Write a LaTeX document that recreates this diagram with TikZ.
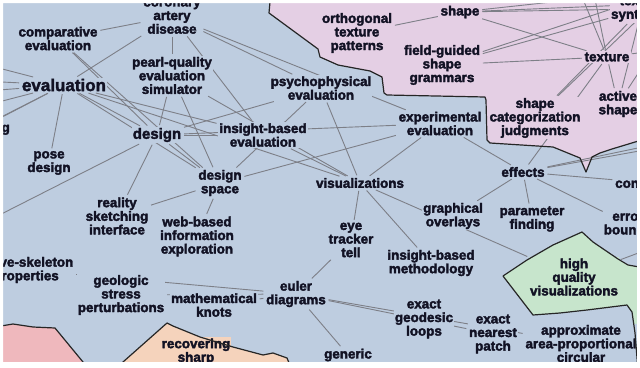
\documentclass[tikz,border=0pt]{standalone}
\usepackage{fontspec}
\setmainfont{Liberation Sans}
\definecolor{cblue}{RGB}{190,205,224}
\definecolor{cpink}{RGB}{228,207,228}
\definecolor{cgreen}{RGB}{199,229,204}
\definecolor{cpeach}{RGB}{245,211,188}
\definecolor{cred}{RGB}{239,184,189}
\definecolor{txt}{RGB}{18,18,36}
\definecolor{egray}{RGB}{125,127,135}
\newcommand{\heavytext}{\special{pdf:literal direct 2 Tr 0.35 w}}
\pgfdeclarelayer{bg}\pgfdeclarelayer{edges}\pgfdeclarelayer{top}
\pgfsetlayers{bg,edges,main,top}
\tikzset{
  lbl/.style={font=\bfseries\fontsize{13.4}{13.6}\selectfont\heavytext, text=txt, align=center, inner sep=1.2pt, fill=#1},
  lbl/.default=cblue,
  bigA/.style={font=\bfseries\fontsize{17}{18}\selectfont\heavytext},
  bigB/.style={font=\bfseries\fontsize{15}{16}\selectfont\heavytext},
  edg/.style={draw=egray, line width=0.9pt, shorten <=1.5pt, shorten >=1.5pt},
  border/.style={draw=black!85, line width=1.2pt, line join=round}
}
\begin{document}
\begin{tikzpicture}[x=1pt,y=-1pt]
\useasboundingbox (0,0) rectangle (640,367);
% regions
\begin{pgfonlayer}{bg}
\fill[cblue] (0,0) rectangle (640,367);
\fill[cpink] (270,-5) -- (270,2) -- (269,13) -- (318,49) -- (320,57) -- (338,65) -- (370,71) -- (382,77) -- (384,93) -- (387,95) -- (485,97) -- (486,100) -- (487,140) -- (490,143) -- (553,147) -- (580,158) -- (586,172) -- (592,157) -- (600,153) -- (612,149) -- (645,139) -- (645,-5) -- cycle;
\fill[cgreen] (503,276) -- (527,260) -- (553,245) -- (582,232) -- (593,242) -- (618,259) -- (628,265) -- (645,268) -- (645,370) -- (638,370) -- (635,333) -- (632,312) -- (627,305) -- (587,310) -- (560,313) -- (533,315) -- cycle;
\fill[cpeach] (118,370) -- (123,362) -- (167,323) -- (173,326) -- (200,337) -- (233,347) -- (263,355) -- (273,353) -- (287,358) -- (292,370) -- cycle;
\fill[cred] (-5,327) -- (13,324) -- (33,327) -- (55,328) -- (83,362) -- (86,370) -- (-5,370) -- cycle;
\end{pgfonlayer}
% labels
\node[lbl] (cor) at (172,16.5) {coronary\\artery\\disease};
\node[lbl] (comp) at (58,38.5) {comparative\\evaluation};
\node[lbl,bigA] (eval) at (64,85) {evaluation};
\node[lbl] (pearl) at (172,75.5) {pearl-quality\\evaluation\\simulator};
\node[lbl] (psy) at (321,88) {psychophysical\\evaluation};
\node[lbl,bigB] (des) at (157,135) {design};
\node[lbl] (ibe) at (263,135) {insight-based\\evaluation};
\node[lbl] (pose) at (49,163) {pose\\design};
\node[lbl] (ds) at (220,183) {design\\space};
\node[lbl] (real) at (117,216) {reality\\sketching\\interface};
\node[lbl] (web) at (197,236.5) {web-based\\information\\exploration};
\node[lbl] (vis) at (360,183) {visualizations};
\node[lbl] (exp) at (440,123.5) {experimental\\evaluation};
\node[lbl=cpink] (orth) at (357,33) {orthogonal\\texture\\patterns};
\node[lbl=cpink] (shape) at (460,12) {shape};
\node[lbl=cpink] (fg) at (442,65) {field-guided\\shape\\grammars};
\node[lbl=cpink] (scj) at (535,118) {shape\\categorization\\judgments};
\node[lbl=cpink] (tex) at (607,57) {texture};
\node[lbl=cpink] (act) at (618,104) {active\\shape};
\node[lbl=cpink] (ts) at (642,9) {texture\\synthesis};
\node[lbl] (eff) at (523,172) {effects};
\node[lbl] (go) at (453,216) {graphical\\overlays};
\node[lbl] (pf) at (532,219) {parameter\\finding};
\node[lbl,anchor=west] (con) at (613.8,183) {constraints};
\node[lbl] (err) at (628,224) {error\\bounds};
\node[lbl=cgreen] (hq) at (574,277) {high\\quality\\visualizations};
\node[lbl] (eye) at (351,240) {eye\\tracker\\tell};
\node[lbl] (ibm) at (431,263) {insight-based\\methodology};
\node[lbl] (eul) at (296,294) {euler\\diagrams};
\node[lbl] (knot) at (214,305) {mathematical\\knots};
\node[lbl] (geo) at (121,295) {geologic\\stress\\perturbations};
\node[lbl] (csk) at (26,270) {curve-skeleton\\properties};
\node[lbl=cpeach] (rec) at (196,351.5) {recovering\\sharp};
\node[lbl] (gen) at (348,355) {generic};
\node[lbl] (egl) at (424,319) {exact\\geodesic\\loops};
\node[lbl] (enp) at (493,334) {exact\\nearest\\patch};
\node[lbl] (apc) at (581,343.5) {approximate\\area-proportional\\circular};
\node[lbl,anchor=east] (mod) at (11.2,128.5) {modeling};
% off-frame end points
\coordinate (oL1) at (-40,58);
\coordinate (oL2) at (-40,80);
\coordinate (oL3) at (-40,93);
\coordinate (oL4) at (-40,112);
\coordinate (oL5) at (-40,138);
\coordinate (oDL) at (-40,235);
\coordinate (oR1) at (700,135);
\coordinate (oR2) at (700,140);
\coordinate (oR3) at (700,230);
\coordinate (oS1) at (700,-14);
\coordinate (oS2) at (700,2);
\coordinate (oF1) at (660,-7);
\coordinate (oT1) at (575,-20);
\coordinate (oT2) at (590,-25);
\coordinate (oT3) at (700,45);
\coordinate (oA1) at (660,40);
\coordinate (oC1) at (700,-40);
% connectors
\begin{pgfonlayer}{edges}
\draw[edg] (comp) -- (cor);
\draw[edg] (eval) -- (cor);
\draw[edg] (cor) -- (pearl);
\draw[edg] (cor) -- (ibe);
\draw[edg] (cor) -- (exp);
\draw[edg] (cor) -- (psy);
\draw[edg] (comp) -- (des);
\draw[edg] (comp) -- (ds);
\draw[edg] (pearl) -- (vis);
\draw[edg] (pearl) -- (ds);
\draw[edg] (pearl) -- (des);
\draw[edg] (eval) -- (des);
\draw[edg] (eval) -- (vis);
\draw[edg] (eval) -- (ds);
\draw[edg] (eval) -- (ibe);
\draw[edg] (eval) -- (pose);
\draw[edg] (eval) -- (mod);
\draw[edg] (eval) -- (oL1);
\draw[edg] (eval) -- (oL2);
\draw[edg] (eval) -- (oL3);
\draw[edg] (eval) -- (oL4);
\draw[edg] (eval) -- (oL5);
\draw[edg] (des) -- (ibe);
\draw[edg] (des) -- (exp);
\draw[edg] (des) -- (real);
\draw[edg] (des) -- (ds);
\draw[edg] (des) -- (oDL);
\draw[edg] (psy) -- (des);
\draw[edg] (psy) -- (ds);
\draw[edg] (psy) -- (vis);
\draw[edg] (ds) -- (exp);
\draw[edg] (ds) -- (real);
\draw[edg] (ds) -- (web);
\draw[edg] (ibe) -- (vis);
\draw[edg] (vis) -- (exp);
\draw[edg] (exp) -- (eff);
\draw[edg] (vis) -- (hq);
\draw[edg] (vis) -- (eye);
\draw[edg] (vis) -- (ibm);
\draw[edg] (eul) -- (eye);
\draw[edg] (eul) -- (enp);
\draw[edg] (eul) -- (apc);
\draw[edg] (eul) -- (gen);
\draw[edg] (csk) -- (eul);
\draw[edg] (geo) -- (eul);
\draw[edg] (knot) -- (eul);
\draw[edg] (eff) -- (go);
\draw[edg] (eff) -- (pf);
\draw[edg] (eff) -- (con);
\draw[edg] (eff) -- (err);
\draw[edg] (eff) -- (oR1);
\draw[edg] (eff) -- (oR2);
\draw[edg] (eff) -- (tex);
\draw[edg] (hq) -- (oR3);
\draw[edg] (orth) -- (shape);
\draw[edg] (shape) -- (ts);
\draw[edg] (shape) -- (tex);
\draw[edg] (shape) -- (oS1);
\draw[edg] (shape) -- (oS2);
\draw[edg] (fg) -- (ts);
\draw[edg] (fg) -- (oF1);
\draw[edg] (fg) -- (tex);
\draw[edg] (scj) -- (ts);
\draw[edg] (scj) -- (oC1);
\draw[edg] (tex) -- (act);
\draw[edg] (act) -- (ts);
\draw[edg] (act) -- (oA1);
\draw[edg] (tex) -- (oT1);
\draw[edg] (tex) -- (oT2);
\draw[edg] (tex) -- (oT3);
\end{pgfonlayer}
% borders and white margin
\begin{pgfonlayer}{top}
\draw[border] (270,-5) -- (270,2) -- (269,13) -- (318,49) -- (320,57) -- (338,65) -- (370,71) -- (382,77) -- (384,93) -- (387,95) -- (485,97) -- (486,100) -- (487,140) -- (490,143) -- (553,147) -- (580,158) -- (586,172) -- (592,157) -- (600,153) -- (612,149) -- (645,139);
\draw[border] (503,276) -- (527,260) -- (553,245) -- (582,232) -- (593,242) -- (618,259) -- (628,265) -- (645,268);
\draw[border] (503,276) -- (533,315) -- (560,313) -- (587,310) -- (627,305) -- (632,312) -- (635,333) -- (638,370);
\draw[border] (118,370) -- (123,362) -- (167,323) -- (173,326) -- (200,337) -- (233,347) -- (263,355) -- (273,353) -- (287,358) -- (292,370);
\draw[border] (-5,327) -- (13,324) -- (33,327) -- (55,328) -- (83,362) -- (86,370);
\fill[white, even odd rule] (-10,-10) rectangle (650,380) (3,3) rectangle (637,362);
\end{pgfonlayer}
\end{tikzpicture}
\end{document}
